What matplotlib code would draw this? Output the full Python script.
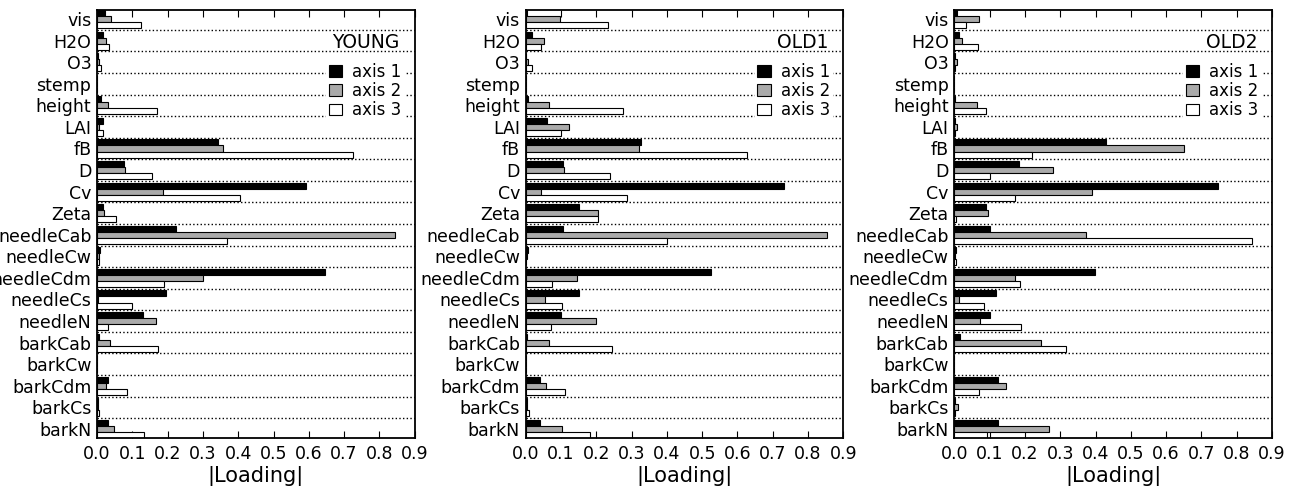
import matplotlib
matplotlib.use('Agg')
import matplotlib.pyplot as plt
import numpy as np

# Variables (de arriba a abajo)
variables = ['vis', 'H2O', 'O3', 'stemp', 'height', 'LAI', 'fB', 'D', 'Cv', 'Zeta',
             'needleCab', 'needleCw', 'needleCdm', 'needleCs', 'needleN',
             'barkCab', 'barkCw', 'barkCdm', 'barkCs', 'barkN']

young_ax1 = [0.024, 0.018, 0.003, 0.0, 0.011, 0.017, 0.344, 0.077, 0.593, 0.017,
             0.223, 0.008, 0.647, 0.196, 0.131, 0.007, 0.0, 0.031, 0.002, 0.031]
young_ax2 = [0.041, 0.025, 0.005, 0.0, 0.030, 0.007, 0.356, 0.079, 0.188, 0.020,
             0.843, 0.005, 0.299, 0.002, 0.166, 0.036, 0.0, 0.025, 0.003, 0.048]
young_ax3 = [0.125, 0.033, 0.011, 0.0, 0.169, 0.016, 0.726, 0.157, 0.404, 0.055,
             0.367, 0.005, 0.190, 0.098, 0.030, 0.174, 0.0, 0.084, 0.005, 0.134]

old1_ax1 = [0.004, 0.017, 0.002, 0.0, 0.006, 0.060, 0.327, 0.107, 0.732, 0.150,
            0.107, 0.006, 0.525, 0.150, 0.099, 0.004, 0.0, 0.042, 0.003, 0.042]
old1_ax2 = [0.097, 0.052, 0.008, 0.0, 0.065, 0.123, 0.321, 0.108, 0.043, 0.205,
            0.853, 0.003, 0.146, 0.055, 0.199, 0.066, 0.0, 0.058, 0.005, 0.104]
old1_ax3 = [0.234, 0.043, 0.017, 0.0, 0.275, 0.100, 0.626, 0.239, 0.286, 0.205,
            0.400, 0.002, 0.076, 0.103, 0.072, 0.244, 0.0, 0.111, 0.009, 0.182]

old2_ax1 = [0.009, 0.013, 0.001, 0.0, 0.002, 0.002, 0.429, 0.183, 0.747, 0.089,
            0.100, 0.005, 0.399, 0.117, 0.100, 0.016, 0.0, 0.123, 0.002, 0.125]
old2_ax2 = [0.070, 0.021, 0.008, 0.0, 0.063, 0.008, 0.652, 0.280, 0.389, 0.095,
            0.373, 0.003, 0.171, 0.013, 0.073, 0.245, 0.0, 0.147, 0.010, 0.269]
old2_ax3 = [0.034, 0.067, 0.002, 0.0, 0.090, 0.002, 0.221, 0.102, 0.171, 0.004,
            0.843, 0.005, 0.185, 0.084, 0.190, 0.316, 0.0, 0.070, 0.002, 0.092]

paneles = [('YOUNG', young_ax1, young_ax2, young_ax3),
           ('OLD1', old1_ax1, old1_ax2, old1_ax3),
           ('OLD2', old2_ax1, old2_ax2, old2_ax3)]

ejes_nombres = ['axis 1', 'axis 2', 'axis 3']
colores = ['black', '#aaaaaa', 'white']

plt.rcParams['font.family'] = 'DejaVu Sans'

fig, axes = plt.subplots(1, 3, figsize=(12.93, 4.86), dpi=100)
fig.subplots_adjust(left=0.075, right=0.9838, bottom=0.0988, top=0.9794, wspace=0.349)

h = 0.28
y = np.arange(len(variables))

for ax, (titulo, a1, a2, a3) in zip(axes, paneles):
    for k, vals in enumerate([a1, a2, a3]):
        ax.barh(y + (k - 1) * h, vals, height=h, color=colores[k],
                edgecolor='black', linewidth=0.8, label=ejes_nombres[k], zorder=2)

    # lineas punteadas entre variables
    for yy in y[:-1] + 0.5:
        ax.axhline(yy, color='black', linestyle=':', linewidth=1.0, zorder=1)

    ax.set_ylim(y[-1] + 1.5 * h, y[0] - 1.5 * h)
    ax.set_xlim(0, 0.9)
    ax.set_yticks(y)
    ax.set_yticklabels(variables, fontsize=12.5)
    ax.set_xticks(np.arange(0, 0.91, 0.1))
    ax.set_xticklabels(['%.1f' % v for v in np.arange(0, 0.91, 0.1)], fontsize=12.5)
    ax.tick_params(axis='y', length=0, pad=4)
    ax.tick_params(axis='x', direction='in', top=True, length=5, width=0.8, pad=5)
    for s in ax.spines.values():
        s.set_linewidth(1.3)
    ax.set_xlabel('|Loading|', fontsize=15, labelpad=2)

    ax.text(0.953, 0.923, titulo, transform=ax.transAxes, ha='right', va='center',
            fontsize=13.5, zorder=5)
    leg = ax.legend(loc='upper right', bbox_to_anchor=(0.965, 0.883), fontsize=12,
                    frameon=True, framealpha=1, edgecolor='white', fancybox=False,
                    handlelength=0.8, handleheight=0.7, handletextpad=0.6,
                    labelspacing=0.08, borderpad=0.15, borderaxespad=0)
    leg.set_zorder(4)

plt.savefig('out.png', dpi=100)
